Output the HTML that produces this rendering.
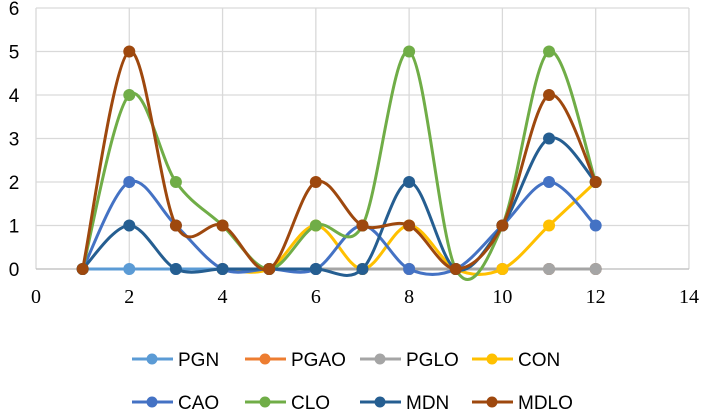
<!DOCTYPE html><html><head><style>body{margin:0;background:#fff}svg{display:block}</style></head><body>
<svg id="s" width="706" height="410" xmlns="http://www.w3.org/2000/svg" font-family="Liberation Sans, sans-serif"></svg>
<script>
const s=document.getElementById('s');let h='';
const X=v=>36+v*46.64, Y=v=>269-v*43.5;
for(let i=0;i<=6;i++){h+=`<line x1="36" x2="689" y1="${Y(i)}" y2="${Y(i)}" stroke="#d9d9d9" stroke-width="1.3"/>`;h+=`<text x="14" y="${Y(i)+7}" font-size="19" text-anchor="middle">${i}</text>`;}
for(let i=0;i<=14;i+=2){h+=`<line x1="${X(i)}" x2="${X(i)}" y1="${Y(6)}" y2="269" stroke="#d9d9d9" stroke-width="1.3"/>`;h+=`<text x="${X(i)}" y="303" font-size="20" text-anchor="middle" style="font-family:'Liberation Serif',serif">${i}</text>`;}
h+=`<line x1="36" x2="689" y1="269" y2="269" stroke="#bfbfbf" stroke-width="1.3"/>`;
const S=[["PGN","#5B9BD5",[0,0,0,0,0,0,0,0,0,0,0,0],1],["PGAO","#ED7D31",[0,0,0,0,0,0,0,0,0],4],["PGLO","#A5A5A5",[0,0,0,0,0,0,0,0,0],4],["CON","#FFC000",[0,0,1,0,1,0,0,1,2],4],["CAO","#4472C4",[0,2,1,0,0,0,1,0,0,1,2,1],1],["CLO","#70AD47",[0,4,2,1,0,1,1,5,0,1,5,2],1],["MDN","#255E91",[0,1,0,0,0,0,0,2,0,1,3,2],1],["MDLO","#9E480E",[0,5,1,1,0,2,1,1,0,1,4,2],1]];
S.forEach(([n,c,d,st])=>{const p=d.map((v,i)=>[X(i+st),Y(v)]);let path=`M${p[0]}`;
for(let i=0;i<p.length-1;i++){const p0=p[i-1]||p[i],p1=p[i],p2=p[i+1],p3=p[i+2]||p2;
const c1=[p1[0]+(p2[0]-p0[0])/6,p1[1]+(p2[1]-p0[1])/6],c2=[p2[0]-(p3[0]-p1[0])/6,p2[1]-(p3[1]-p1[1])/6];path+=`C${c1} ${c2} ${p2}`;}
h+=`<path d="${path}" fill="none" stroke="${c}" stroke-width="3"/>`;p.forEach(q=>h+=`<circle cx="${q[0]}" cy="${q[1]}" r="6" fill="${c}"/>`);});
const cols=[132,245,360,472];
S.forEach(([n,c],i)=>{const x=cols[i%4],y=i<4?359:402;h+=`<line x1="${x}" x2="${x+41}" y1="${y}" y2="${y}" stroke="${c}" stroke-width="3"/><circle cx="${x+20}" cy="${y}" r="5.5" fill="${c}"/><text x="${x+46}" y="${y+7}" font-size="19">${n}</text>`;});
s.innerHTML=h;
</script></body></html>
